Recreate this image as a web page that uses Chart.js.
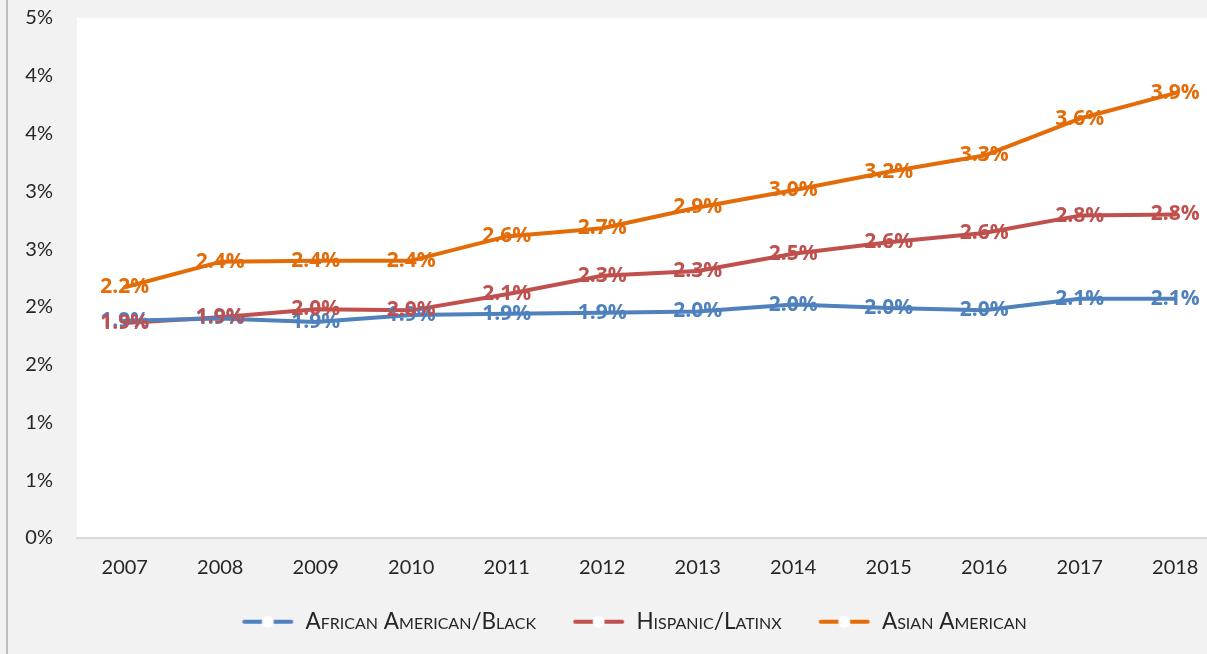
<!DOCTYPE html>
<html>
<head>
<meta charset="utf-8">
<script src="https://cdn.jsdelivr.net/npm/chart.js@4.4.1/dist/chart.umd.min.js"></script>
<style>
    html, body { margin: 0; padding: 0; overflow: hidden; background: #f2f2f2; }
    #wrap { position: absolute; left: 0; top: 0; width: 1268px; height: 654px; }
</style>
</head>
<body>
<div id="wrap"><canvas id="lineChart"></canvas></div>
<script>
const years = ["2007", "2008", "2009", "2010", "2011", "2012", "2013", "2014", "2015", "2016", "2017", "2018"];
const seriesNames = ["African American/Black", "Hispanic/Latinx", "Asian American"];
const black = [1.88, 1.90, 1.87, 1.93, 1.94, 1.95, 1.96, 2.02, 1.99, 1.97, 2.07, 2.07];
const hispanic = [1.86, 1.91, 1.98, 1.97, 2.11, 2.27, 2.31, 2.46, 2.56, 2.64, 2.79, 2.80];
const asian = [2.17, 2.39, 2.40, 2.40, 2.61, 2.68, 2.86, 3.01, 3.17, 3.31, 3.63, 3.85];
const yMin = 0, yMax = 4.5, yStep = 0.5;

const colors = ["#4f81bd", "#c0504d", "#e36c09"];
const textColor = "#262626";
const fontFamily = "Lato, 'Open Sans', sans-serif";

// petit marqueur de légende : trait + rond blanc
function makeMarker(color) {
    const c = document.createElement("canvas");
    c.width = 53;
    c.height = 14;
    const g = c.getContext("2d");
    g.strokeStyle = color;
    g.lineWidth = 4;
    g.lineCap = "round";
    g.beginPath();
    g.moveTo(3, 7);
    g.lineTo(50, 7);
    g.stroke();
    g.fillStyle = "#ffffff";
    g.beginPath();
    g.arc(26.5, 7, 6, 0, Math.PI * 2);
    g.fill();
    return c;
}

const background = {
    id: "background",
    afterLayout(chart) {
        // recentre la légende sous le graphique d'origine
        chart.legend.left += 30;
        chart.legend.top -= 11;
    },
    beforeDraw(chart) {
        const { ctx, chartArea } = chart;
        ctx.save();
        ctx.fillStyle = "#f2f2f2";
        ctx.fillRect(0, 0, chart.width, chart.height);
        ctx.strokeStyle = "#bfbfbf";
        ctx.lineWidth = 2;
        ctx.beginPath();
        ctx.moveTo(7, 0);
        ctx.lineTo(7, chart.height);
        ctx.stroke();
        ctx.fillStyle = "#ffffff";
        ctx.fillRect(chartArea.left, chartArea.top, chartArea.right - chartArea.left, chartArea.bottom - chartArea.top);
        ctx.restore();
    }
};

const pointLabels = {
    id: "pointLabels",
    afterDatasetsDraw(chart) {
        const ctx = chart.ctx;
        ctx.save();
        ctx.font = "bold 21px 'Open Sans', sans-serif";
        ctx.textAlign = "center";
        ctx.textBaseline = "middle";
        chart.data.datasets.forEach((ds, i) => {
            const meta = chart.getDatasetMeta(i);
            ctx.fillStyle = ds.borderColor;
            meta.data.forEach((pt, j) => {
                ctx.fillText(ds.data[j].toFixed(1) + "%", pt.x, pt.y);
            });
        });
        ctx.restore();
    }
};

const allSeries = [black, hispanic, asian];

new Chart(document.getElementById("lineChart"), {
    type: "line",
    data: {
        labels: years,
        datasets: allSeries.map((values, i) => ({
            label: seriesNames[i],
            data: values,
            borderColor: colors[i],
            backgroundColor: colors[i],
            borderWidth: 4,
            borderJoinStyle: "round",
            borderCapStyle: "round",
            pointRadius: 0,
            pointHoverRadius: 0,
            pointStyle: makeMarker(colors[i]),
            tension: 0,
            fill: false
        }))
    },
    options: {
        responsive: true,
        maintainAspectRatio: false,
        animation: false,
        layout: {
            autoPadding: false,
            padding: { left: 15, right: 45, top: 18, bottom: 0 }
        },
        plugins: {
            legend: {
                position: "bottom",
                labels: {
                    usePointStyle: true,
                    pointStyleWidth: 53,
                    padding: 36,
                    color: textColor,
                    font: { family: fontFamily, size: 22.5, weight: "small-caps" }
                }
            },
            tooltip: { enabled: false }
        },
        scales: {
            x: {
                offset: true,
                grid: { display: false, drawTicks: false },
                border: { display: true, color: "#d9d9d9", width: 2 },
                ticks: {
                    padding: 18,
                    color: textColor,
                    font: { family: fontFamily, size: 20 },
                    maxRotation: 0
                },
                afterFit: function (scale) {
                    scale.height = 47.5;
                }
            },
            y: {
                min: yMin,
                max: yMax,
                grid: { display: false, drawTicks: false },
                border: { display: false },
                ticks: {
                    stepSize: yStep,
                    padding: 24,
                    color: textColor,
                    font: { family: fontFamily, size: 20 },
                    callback: function (value) {
                        return Math.round(value + 1e-9) + "%";
                    }
                },
                afterFit: function (scale) {
                    scale.width = 62;
                    scale.paddingTop = 0;
                    scale.paddingBottom = 0;
                }
            }
        }
    },
    plugins: [background, pointLabels]
});
</script>
</body>
</html>
